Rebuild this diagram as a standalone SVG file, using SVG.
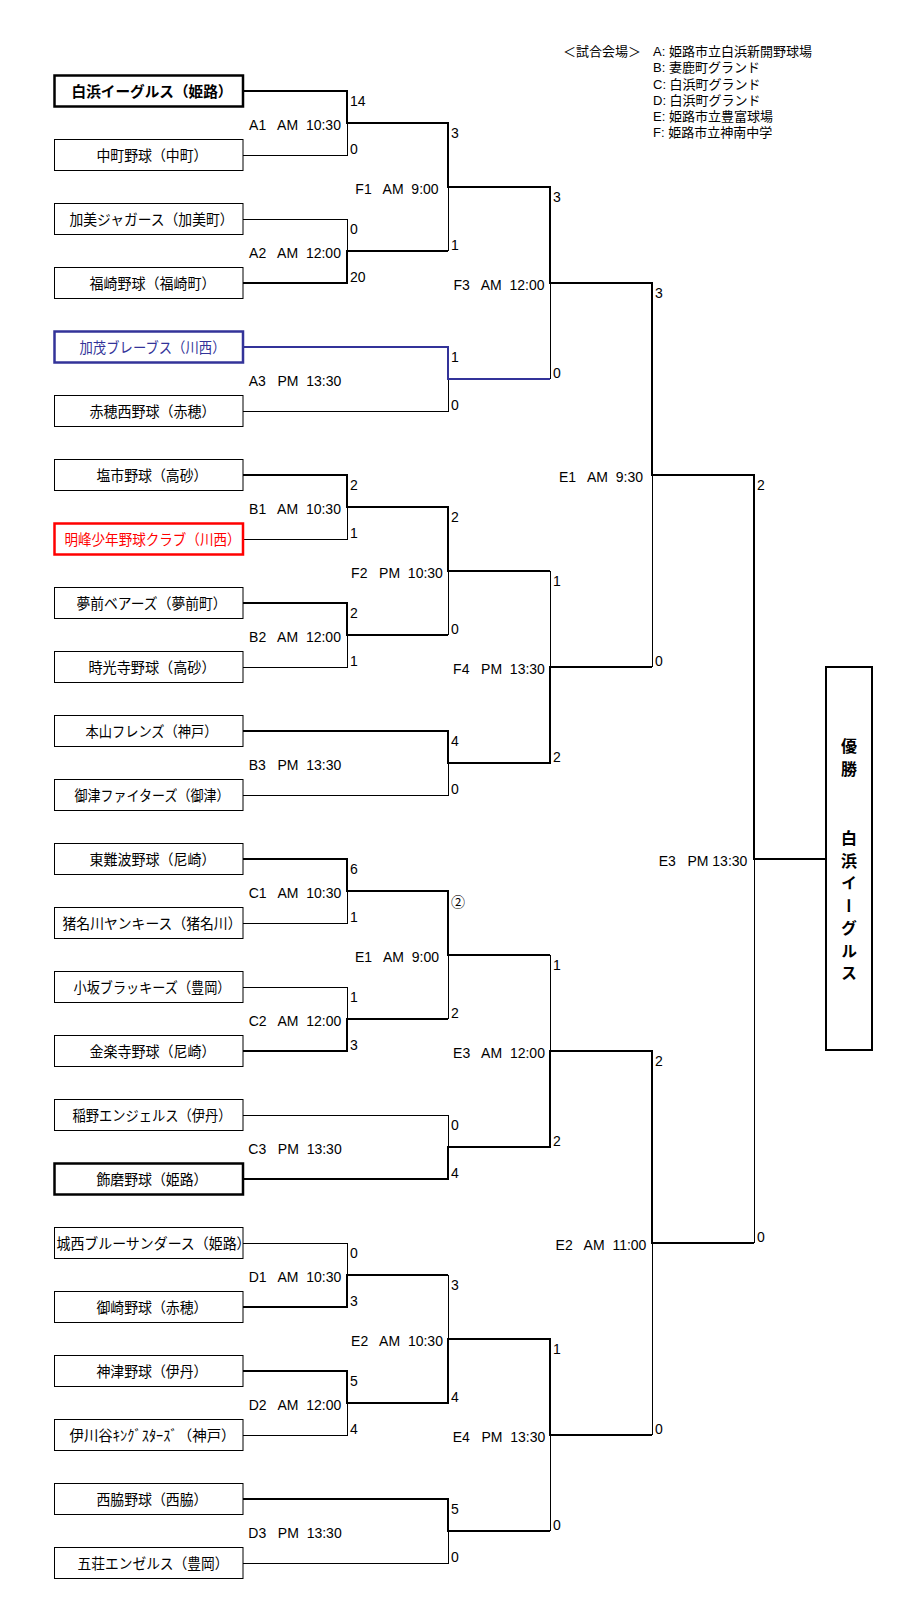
<svg xmlns="http://www.w3.org/2000/svg" width="920" height="1610" viewBox="0 0 920 1610">
<style>
  .bg { fill: #ffffff; }
  .box { fill: #ffffff; stroke: #000000; stroke-width: 1; }
  .box-bold { fill: #ffffff; stroke: #000000; stroke-width: 2.5; }
  .box-blue { fill: #ffffff; stroke: #333399; stroke-width: 2.5; }
  .box-red { fill: #ffffff; stroke: #ff0000; stroke-width: 2.5; }
  .name { font-family: "Noto Sans CJK JP", "Liberation Sans", sans-serif; font-size: 14.5px; fill: #000000; }
  .name-bold { font-weight: bold; }
  .name-blue { fill: #333399; }
  .name-red { fill: #ff0000; }
  .thin { fill: none; stroke: #000000; stroke-width: 1; }
  .thick { fill: none; stroke: #000000; stroke-width: 2; stroke-linejoin: miter; }
  .blue { fill: none; stroke: #333399; stroke-width: 2; }
  .lbl { font-family: "Liberation Sans", "Noto Sans CJK JP", sans-serif; font-size: 14px; fill: #000000; text-anchor: middle; white-space: pre; }
  .sc { font-family: "Liberation Sans", "Noto Sans CJK JP", sans-serif; font-size: 14px; fill: #000000; }
  .leg { font-family: "Liberation Sans", "Noto Sans CJK JP", sans-serif; font-size: 13px; fill: #000000; white-space: pre; }
  .win { font-family: "Noto Sans CJK JP", sans-serif; font-size: 16px; font-weight: bold; fill: #000000; writing-mode: vertical-rl; letter-spacing: 6.5px; }
</style>
<rect class="bg" x="0" y="0" width="920" height="1610"/>

<g id="legend">
  <text class="leg" x="563" y="56">＜試合会場＞</text>
  <text class="leg" x="653" y="56" xml:space="preserve">A: 姫路市立白浜新開野球場</text>
  <text class="leg" x="653" y="72" xml:space="preserve">B: 妻鹿町グランド</text>
  <text class="leg" x="653" y="88.5" xml:space="preserve">C: 白浜町グランド</text>
  <text class="leg" x="653" y="104.5" xml:space="preserve">D: 白浜町グランド</text>
  <text class="leg" x="653" y="121" xml:space="preserve">E: 姫路市立豊富球場</text>
  <text class="leg" x="653" y="137" xml:space="preserve">F: 姫路市立神南中学</text>
</g>

<g id="connectors" shape-rendering="crispEdges">
  <!-- losing (thin) segments -->
  <path class="thin" d="M243 155 H347 V123"/>
  <path class="thin" d="M243 219 H347 V251"/>
  <path class="thin" d="M448 251 V187"/>
  <path class="thin" d="M243 411 H448 V379"/>
  <path class="thin" d="M550 379 V283"/>
  <path class="thin" d="M243 539 H347 V507"/>
  <path class="thin" d="M243 667 H347 V635"/>
  <path class="thin" d="M448 635 V571"/>
  <path class="thin" d="M243 795 H448 V763"/>
  <path class="thin" d="M550 571 V667"/>
  <path class="thin" d="M652 667 V475"/>
  <path class="thin" d="M243 923 H347 V891"/>
  <path class="thin" d="M243 987 H347 V1019"/>
  <path class="thin" d="M448 1019 V955"/>
  <path class="thin" d="M243 1115 H448 V1147"/>
  <path class="thin" d="M550 955 V1051"/>
  <path class="thin" d="M243 1243 H347 V1275"/>
  <path class="thin" d="M243 1435 H347 V1403"/>
  <path class="thin" d="M448 1275 V1339"/>
  <path class="thin" d="M243 1563 H448 V1531"/>
  <path class="thin" d="M550 1531 V1435"/>
  <path class="thin" d="M652 1435 V1243"/>
  <path class="thin" d="M754 1243 V859"/>
  <!-- winning (thick) paths -->
  <path class="blue" d="M243 347 H448 V379 H550"/>
  <path class="thick" d="M243 91 H347 V123 H448 V187 H550 V283 H652 V475 H754 V859 H826"/>
  <path class="thick" d="M243 283 H347 V251 H448"/>
  <path class="thick" d="M243 475 H347 V507 H448 V571 H550"/>
  <path class="thick" d="M243 603 H347 V635 H448"/>
  <path class="thick" d="M243 731 H448 V763 H550 V667 H652"/>
  <path class="thick" d="M243 859 H347 V891 H448 V955 H550"/>
  <path class="thick" d="M243 1051 H347 V1019 H448"/>
  <path class="thick" d="M243 1179 H448 V1147 H550 V1051 H652 V1243 H754"/>
  <path class="thick" d="M243 1307 H347 V1275 H448"/>
  <path class="thick" d="M243 1371 H347 V1403 H448 V1339 H550 V1435 H652"/>
  <path class="thick" d="M243 1499 H448 V1531 H550"/>
</g>

<g id="team-01"><rect class="box-bold" x="54.5" y="75.5" width="188.5" height="31"/><text class="name name-bold" x="71.5" y="96.5" textLength="161" lengthAdjust="spacingAndGlyphs">白浜イーグルス（姫路）</text></g>
<g id="team-02"><rect class="box" x="54.5" y="139.5" width="188.5" height="31"/><text class="name" x="96.5" y="160.5" textLength="111" lengthAdjust="spacingAndGlyphs">中町野球（中町）</text></g>
<g id="team-03"><rect class="box" x="54.5" y="203.5" width="188.5" height="31"/><text class="name" x="69.5" y="224.5" textLength="164" lengthAdjust="spacingAndGlyphs">加美ジャガース（加美町）</text></g>
<g id="team-04"><rect class="box" x="54.5" y="267.5" width="188.5" height="31"/><text class="name" x="89.5" y="288.5" textLength="126" lengthAdjust="spacingAndGlyphs">福崎野球（福崎町）</text></g>
<g id="team-05"><rect class="box-blue" x="54.5" y="331.5" width="188.5" height="31"/><text class="name name-blue" x="79.5" y="352.5" textLength="146" lengthAdjust="spacingAndGlyphs">加茂ブレーブス（川西）</text></g>
<g id="team-06"><rect class="box" x="54.5" y="395.5" width="188.5" height="31"/><text class="name" x="89.5" y="416.5" textLength="126" lengthAdjust="spacingAndGlyphs">赤穂西野球（赤穂）</text></g>
<g id="team-07"><rect class="box" x="54.5" y="459.5" width="188.5" height="31"/><text class="name" x="96.5" y="480.5" textLength="111" lengthAdjust="spacingAndGlyphs">塩市野球（高砂）</text></g>
<g id="team-08"><rect class="box-red" x="54.5" y="523.5" width="188.5" height="31"/><text class="name name-red" x="64.5" y="544.5" textLength="176" lengthAdjust="spacingAndGlyphs">明峰少年野球クラブ（川西）</text></g>
<g id="team-09"><rect class="box" x="54.5" y="587.5" width="188.5" height="31"/><text class="name" x="76.5" y="608.5" textLength="150" lengthAdjust="spacingAndGlyphs">夢前ベアーズ（夢前町）</text></g>
<g id="team-10"><rect class="box" x="54.5" y="651.5" width="188.5" height="31"/><text class="name" x="88.5" y="672.5" textLength="127" lengthAdjust="spacingAndGlyphs">時光寺野球（高砂）</text></g>
<g id="team-11"><rect class="box" x="54.5" y="715.5" width="188.5" height="31"/><text class="name" x="85.5" y="736.5" textLength="132" lengthAdjust="spacingAndGlyphs">本山フレンズ（神戸）</text></g>
<g id="team-12"><rect class="box" x="54.5" y="779.5" width="188.5" height="31"/><text class="name" x="74.5" y="800.5" textLength="155" lengthAdjust="spacingAndGlyphs">御津ファイターズ（御津）</text></g>
<g id="team-13"><rect class="box" x="54.5" y="843.5" width="188.5" height="31"/><text class="name" x="89.5" y="864.5" textLength="126" lengthAdjust="spacingAndGlyphs">東難波野球（尼崎）</text></g>
<g id="team-14"><rect class="box" x="54.5" y="907.5" width="188.5" height="31"/><text class="name" x="62.5" y="928.5" textLength="179" lengthAdjust="spacingAndGlyphs">猪名川ヤンキース（猪名川）</text></g>
<g id="team-15"><rect class="box" x="54.5" y="971.5" width="188.5" height="31"/><text class="name" x="73.5" y="992.5" textLength="157" lengthAdjust="spacingAndGlyphs">小坂ブラッキーズ（豊岡）</text></g>
<g id="team-16"><rect class="box" x="54.5" y="1035.5" width="188.5" height="31"/><text class="name" x="89.5" y="1056.5" textLength="126" lengthAdjust="spacingAndGlyphs">金楽寺野球（尼崎）</text></g>
<g id="team-17"><rect class="box" x="54.5" y="1099.5" width="188.5" height="31"/><text class="name" x="72.5" y="1120.5" textLength="159" lengthAdjust="spacingAndGlyphs">稲野エンジェルス（伊丹）</text></g>
<g id="team-18"><rect class="box-bold" x="54.5" y="1163.5" width="188.5" height="31"/><text class="name" x="96.5" y="1184.5" textLength="111" lengthAdjust="spacingAndGlyphs">飾磨野球（姫路）</text></g>
<g id="team-19"><rect class="box" x="54.5" y="1227.5" width="188.5" height="31"/><text class="name" x="56.5" y="1248.5" textLength="194" lengthAdjust="spacingAndGlyphs">城西ブルーサンダース（姫路）</text></g>
<g id="team-20"><rect class="box" x="54.5" y="1291.5" width="188.5" height="31"/><text class="name" x="96.5" y="1312.5" textLength="111" lengthAdjust="spacingAndGlyphs">御崎野球（赤穂）</text></g>
<g id="team-21"><rect class="box" x="54.5" y="1355.5" width="188.5" height="31"/><text class="name" x="96.5" y="1376.5" textLength="111" lengthAdjust="spacingAndGlyphs">神津野球（伊丹）</text></g>
<g id="team-22"><rect class="box" x="54.5" y="1419.5" width="188.5" height="31"/><text class="name" x="69.5" y="1440.5" textLength="166" lengthAdjust="spacingAndGlyphs">伊川谷ｷﾝｸﾞｽﾀｰｽﾞ（神戸）</text></g>
<g id="team-23"><rect class="box" x="54.5" y="1483.5" width="188.5" height="31"/><text class="name" x="96.5" y="1504.5" textLength="111" lengthAdjust="spacingAndGlyphs">西脇野球（西脇）</text></g>
<g id="team-24"><rect class="box" x="54.5" y="1547.5" width="188.5" height="31"/><text class="name" x="77.5" y="1568.5" textLength="151" lengthAdjust="spacingAndGlyphs">五荘エンゼルス（豊岡）</text></g>

<g id="champion">
  <rect class="box" x="826" y="667" width="46" height="383" style="stroke-width:2"/>
  <text class="win" x="849" y="738">優勝</text>
  <text class="win" x="849" y="830">白浜イーグルス</text>
</g>

<g id="match-labels">
  <text class="lbl" x="295" y="129.5" xml:space="preserve">A1   AM  10:30</text>
  <text class="lbl" x="295" y="257.5" xml:space="preserve">A2   AM  12:00</text>
  <text class="lbl" x="295" y="385.5" xml:space="preserve">A3   PM  13:30</text>
  <text class="lbl" x="295" y="513.5" xml:space="preserve">B1   AM  10:30</text>
  <text class="lbl" x="295" y="641.5" xml:space="preserve">B2   AM  12:00</text>
  <text class="lbl" x="295" y="769.5" xml:space="preserve">B3   PM  13:30</text>
  <text class="lbl" x="295" y="897.5" xml:space="preserve">C1   AM  10:30</text>
  <text class="lbl" x="295" y="1025.5" xml:space="preserve">C2   AM  12:00</text>
  <text class="lbl" x="295" y="1153.5" xml:space="preserve">C3   PM  13:30</text>
  <text class="lbl" x="295" y="1281.5" xml:space="preserve">D1   AM  10:30</text>
  <text class="lbl" x="295" y="1409.5" xml:space="preserve">D2   AM  12:00</text>
  <text class="lbl" x="295" y="1537.5" xml:space="preserve">D3   PM  13:30</text>
  <text class="lbl" x="397" y="193.5" xml:space="preserve">F1   AM  9:00</text>
  <text class="lbl" x="397" y="577.5" xml:space="preserve">F2   PM  10:30</text>
  <text class="lbl" x="397" y="961.5" xml:space="preserve">E1   AM  9:00</text>
  <text class="lbl" x="397" y="1345.5" xml:space="preserve">E2   AM  10:30</text>
  <text class="lbl" x="499" y="289.5" xml:space="preserve">F3   AM  12:00</text>
  <text class="lbl" x="499" y="673.5" xml:space="preserve">F4   PM  13:30</text>
  <text class="lbl" x="499" y="1057.5" xml:space="preserve">E3   AM  12:00</text>
  <text class="lbl" x="499" y="1441.5" xml:space="preserve">E4   PM  13:30</text>
  <text class="lbl" x="601" y="481.5" xml:space="preserve">E1   AM  9:30</text>
  <text class="lbl" x="601" y="1249.5" xml:space="preserve">E2   AM  11:00</text>
  <text class="lbl" x="703" y="865.5" xml:space="preserve">E3   PM 13:30</text>
</g>

<g id="scores">
  <text class="sc" x="350" y="106">14</text><text class="sc" x="350" y="153.5">0</text>
  <text class="sc" x="350" y="234">0</text><text class="sc" x="350" y="281.5">20</text>
  <text class="sc" x="350" y="490">2</text><text class="sc" x="350" y="537.5">1</text>
  <text class="sc" x="350" y="618">2</text><text class="sc" x="350" y="665.5">1</text>
  <text class="sc" x="350" y="874">6</text><text class="sc" x="350" y="921.5">1</text>
  <text class="sc" x="350" y="1002">1</text><text class="sc" x="350" y="1049.5">3</text>
  <text class="sc" x="350" y="1258">0</text><text class="sc" x="350" y="1305.5">3</text>
  <text class="sc" x="350" y="1386">5</text><text class="sc" x="350" y="1433.5">4</text>

  <text class="sc" x="451" y="138">3</text><text class="sc" x="451" y="249.5">1</text>
  <text class="sc" x="451" y="362">1</text><text class="sc" x="451" y="409.5">0</text>
  <text class="sc" x="451" y="522">2</text><text class="sc" x="451" y="633.5">0</text>
  <text class="sc" x="451" y="746">4</text><text class="sc" x="451" y="793.5">0</text>
  <text class="sc" x="451" y="906.5">②</text><text class="sc" x="451" y="1017.5">2</text>
  <text class="sc" x="451" y="1130">0</text><text class="sc" x="451" y="1177.5">4</text>
  <text class="sc" x="451" y="1290">3</text><text class="sc" x="451" y="1401.5">4</text>
  <text class="sc" x="451" y="1514">5</text><text class="sc" x="451" y="1561.5">0</text>

  <text class="sc" x="553" y="202">3</text><text class="sc" x="553" y="377.5">0</text>
  <text class="sc" x="553" y="586">1</text><text class="sc" x="553" y="761.5">2</text>
  <text class="sc" x="553" y="970">1</text><text class="sc" x="553" y="1145.5">2</text>
  <text class="sc" x="553" y="1354">1</text><text class="sc" x="553" y="1529.5">0</text>

  <text class="sc" x="655" y="298">3</text><text class="sc" x="655" y="665.5">0</text>
  <text class="sc" x="655" y="1066">2</text><text class="sc" x="655" y="1433.5">0</text>

  <text class="sc" x="757" y="490">2</text><text class="sc" x="757" y="1241.5">0</text>
</g>
</svg>
